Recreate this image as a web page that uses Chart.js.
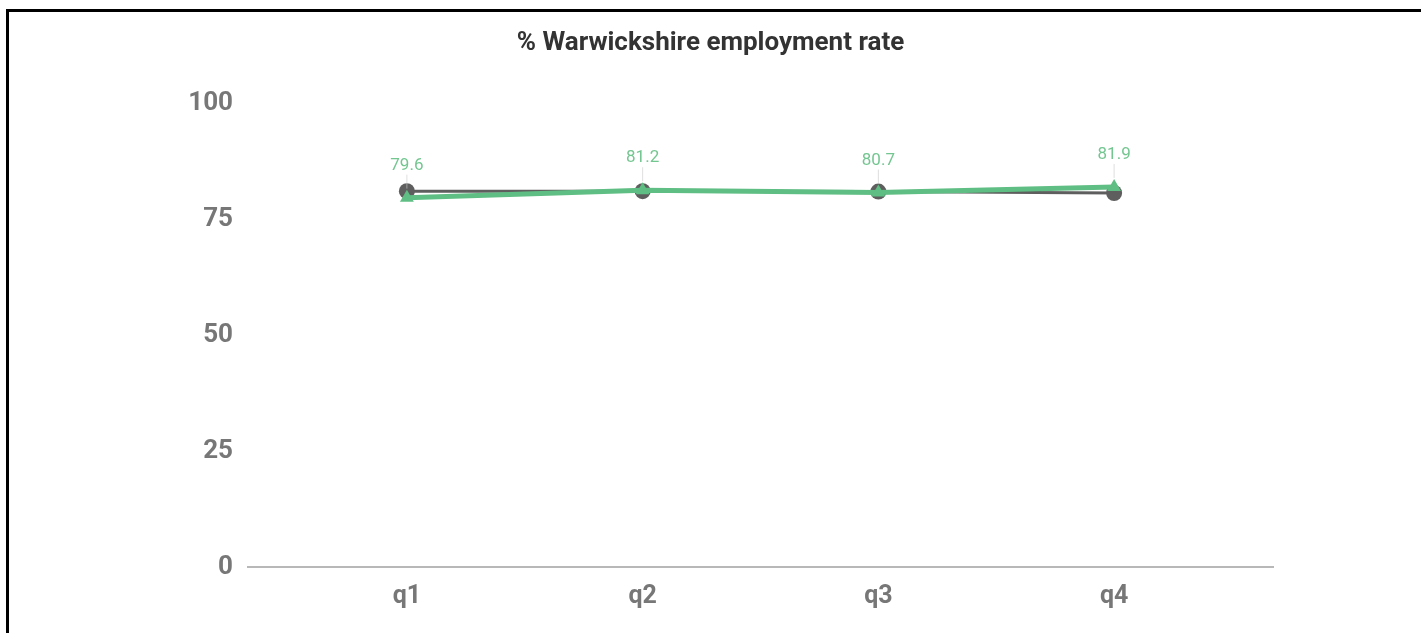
<!DOCTYPE html>
<html>
<head>
<meta charset="utf-8">
<script src="https://cdn.jsdelivr.net/npm/chart.js@4/dist/chart.umd.min.js"></script>
<style>
  html, body { margin: 0; padding: 0; background: #fff; }
  #wrap { position: relative; width: 1421px; height: 633px; overflow: hidden; }
  #frame { position: absolute; left: 6px; top: 9px; right: -10px; bottom: -10px;
           border-top: 3px solid #000; border-left: 3px solid #000; pointer-events: none; }
  canvas { position: absolute; left: 0; top: 0; }
</style>
</head>
<body>
<div id="wrap">
  <canvas id="chart" width="1421" height="633"></canvas>
  <div id="frame"></div>
</div>
<script>
// Quarters along the x axis
const categories = ['q1', 'q2', 'q3', 'q4'];
// Warwickshire employment rate (%), labelled series
const warwickshire = [79.6, 81.2, 80.7, 81.9];
// Comparison series (unlabelled)
const comparison = [81.0, 81.0, 80.9, 80.6];
// Y axis ticks
const yTicks = [0, 25, 50, 75, 100];

const GREEN = '#5fbe83';
const GREY = '#5e5e5e';

const toPoints = (vals) => vals.map((v, i) => ({ x: i, y: v }));

// Value labels above the labelled series with a faint leader line
const valueLabels = {
  id: 'valueLabels',
  afterDatasetsDraw(chart) {
    const ctx = chart.ctx;
    chart.data.datasets.forEach((ds, di) => {
      if (!ds.showValues) return;
      const meta = chart.getDatasetMeta(di);
      meta.data.forEach((pt, i) => {
        const v = ds.data[i].y;
        const ly = pt.y - 32;
        ctx.save();
        ctx.strokeStyle = 'rgba(200,200,200,0.6)';
        ctx.lineWidth = 1;
        ctx.beginPath();
        ctx.moveTo(pt.x, ly + 9);
        ctx.lineTo(pt.x, pt.y - 9);
        ctx.stroke();
        ctx.fillStyle = '#74c691';
        ctx.font = '17px Roboto';
        ctx.textAlign = 'center';
        ctx.textBaseline = 'middle';
        ctx.fillText(v.toFixed(1), pt.x, ly);
        ctx.restore();
      });
    });
  }
};

new Chart(document.getElementById('chart'), {
  type: 'line',
  data: {
    datasets: [
      {
        label: 'Warwickshire',
        data: toPoints(warwickshire),
        borderColor: GREEN,
        backgroundColor: GREEN,
        borderWidth: 5,
        pointStyle: 'triangle',
        pointRadius: 8,
        pointBorderWidth: 0,
        tension: 0,
        order: 0,
        showValues: true
      },
      {
        label: 'Comparison',
        data: toPoints(comparison),
        borderColor: GREY,
        backgroundColor: GREY,
        borderWidth: 3,
        pointStyle: 'circle',
        pointRadius: 8,
        pointBorderWidth: 0,
        tension: 0,
        order: 1
      }
    ]
  },
  options: {
    responsive: false,
    animation: false,
    events: [],
    layout: { padding: { top: 12, right: 0, bottom: 0, left: 0 } },
    plugins: {
      legend: { display: false },
      tooltip: { enabled: false },
      title: {
        display: true,
        text: '% Warwickshire employment rate',
        color: '#333333',
        font: { family: 'Roboto', size: 26, weight: 'bold', lineHeight: 1.2 },
        padding: { top: 15.4, bottom: 44.4 }
      }
    },
    scales: {
      x: {
        type: 'linear',
        min: -0.674,
        max: categories.length - 1 + 0.674,
        grid: { display: false, drawTicks: false },
        border: { display: true, color: '#b8b8b8', width: 2 },
        afterBuildTicks(scale) {
          scale.ticks = categories.map((c, i) => ({ value: i }));
        },
        afterFit(scale) { scale.height = 66; },
        ticks: {
          color: '#777777',
          font: { family: 'Roboto', size: 25, weight: 'bold' },
          padding: 15,
          callback: (v) => categories[v]
        }
      },
      y: {
        min: 0,
        max: 100,
        grid: { display: false, drawTicks: false },
        border: { display: false },
        afterBuildTicks(scale) {
          scale.ticks = yTicks.map(v => ({ value: v }));
        },
        afterFit(scale) { scale.width = 248; },
        ticks: {
          color: '#777777',
          font: { family: 'Roboto', size: 26, weight: 'bold' },
          padding: 15
        }
      },
      // empty right-hand margin so the title centres on the full width
      yRight: {
        position: 'right',
        min: 0,
        max: 100,
        grid: { display: false, drawTicks: false },
        border: { display: false },
        ticks: { display: false },
        afterFit(scale) { scale.width = 148; }
      }
    }
  },
  plugins: [valueLabels]
});
</script>
</body>
</html>
